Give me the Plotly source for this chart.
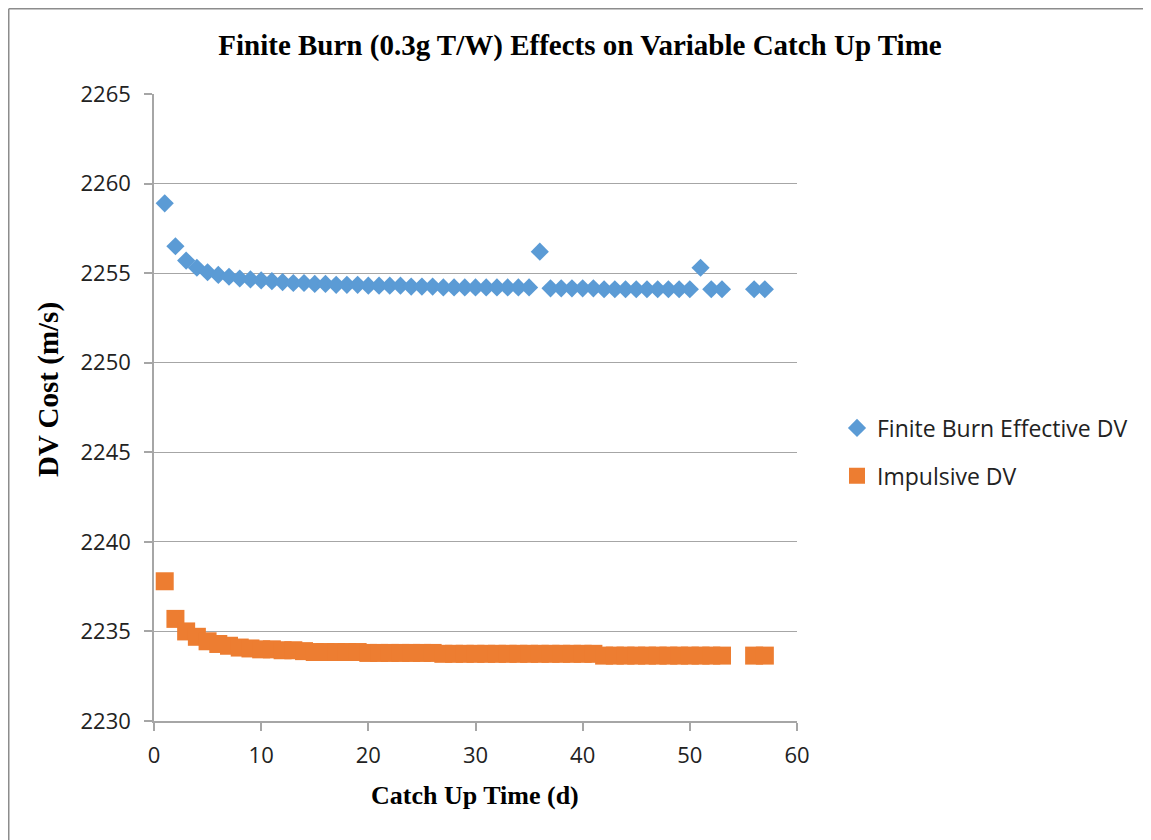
import plotly.graph_objects as go

# Finite burn effective DV (blue diamonds)
finite_x = list(range(1, 36)) + [36] + list(range(37, 51)) + [51, 52, 53, 56, 57]
finite_dv = [2258.9, 2256.5, 2255.7, 2255.3, 2255.05, 2254.9, 2254.8, 2254.7, 2254.65, 2254.6,
             2254.55, 2254.5, 2254.45, 2254.45, 2254.4, 2254.4, 2254.35, 2254.35, 2254.35, 2254.3,
             2254.3, 2254.3, 2254.3, 2254.25, 2254.25, 2254.25, 2254.2, 2254.2, 2254.2, 2254.2,
             2254.2, 2254.2, 2254.2, 2254.2, 2254.2,
             2256.2,
             2254.15, 2254.15, 2254.15, 2254.15, 2254.15, 2254.1, 2254.1, 2254.1, 2254.1, 2254.1,
             2254.1, 2254.1, 2254.1, 2254.1,
             2255.3, 2254.1, 2254.1, 2254.1, 2254.1]

# Impulsive DV (orange squares)
impulsive_x = list(range(1, 54)) + [56, 57]
impulsive_dv = [2237.8, 2235.7, 2235.0, 2234.7, 2234.45, 2234.3, 2234.2, 2234.1, 2234.05, 2234.0,
                2234.0, 2233.95, 2233.95, 2233.9, 2233.85, 2233.85, 2233.85, 2233.85, 2233.85, 2233.8,
                2233.8, 2233.8, 2233.8, 2233.8, 2233.8, 2233.8, 2233.75, 2233.75, 2233.75, 2233.75,
                2233.75, 2233.75, 2233.75, 2233.75, 2233.75, 2233.75, 2233.75, 2233.75, 2233.75, 2233.75,
                2233.75, 2233.65, 2233.65, 2233.65, 2233.65, 2233.65, 2233.65, 2233.65, 2233.65, 2233.65,
                2233.65, 2233.65, 2233.65,
                2233.65, 2233.65]

x_ticks = [0, 10, 20, 30, 40, 50, 60]
y_ticks = [2230, 2235, 2240, 2245, 2250, 2255, 2260, 2265]

fig = go.Figure()
fig.add_trace(go.Scatter(x=finite_x, y=finite_dv, mode="markers", name="Finite Burn Effective DV",
                         legendgroup="a",
                         marker=dict(symbol="diamond", size=14, color="#5B9BD5", line=dict(width=0))))
fig.add_trace(go.Scatter(x=impulsive_x, y=impulsive_dv, mode="markers", name="Impulsive DV",
                         legendgroup="b",
                         marker=dict(symbol="square", size=18, color="#ED7D31", line=dict(width=0))))

# page has an 8px body margin; work in figure coordinates (page - 8)
OFF = 8
W, H = 1151 - OFF, 840 - OFF
L, R, T, B = 154 - OFF, 797 - OFF, 94 - OFF, 721 - OFF
pw, ph = R - L, B - T


def px(xp):
    return (xp - OFF - L) / pw


def py(yp):
    return (B - (yp - OFF)) / ph


fig.update_layout(
    width=W, height=H,
    margin=dict(l=L, r=W - R, t=T, b=H - B, autoexpand=False),
    paper_bgcolor="white", plot_bgcolor="white",
    title=dict(text="<b>Finite Burn (0.3g T/W) Effects on Variable Catch Up Time</b>",
               x=(580 - OFF) / W, xref="container", xanchor="center",
               y=1 - (45 - OFF) / H, yanchor="middle",
               font=dict(family="Liberation Serif", size=29, color="black")),
    showlegend=True,
    legend=dict(x=px(837), xanchor="left", y=py(452), yanchor="middle",
                font=dict(family="Open Sans", size=23, color="#222"),
                tracegroupgap=15, bgcolor="rgba(0,0,0,0)"),
    xaxis=dict(range=[0, 60], tickvals=x_ticks, showgrid=False, zeroline=False,
               showline=True, linecolor="#a6a6a6", linewidth=1.5,
               ticks="outside", ticklen=8, tickcolor="#a6a6a6", tickwidth=1.5,
               ticklabelstandoff=6,
               tickfont=dict(family="Open Sans", size=22, color="#222")),
    yaxis=dict(range=[2230, 2265], tickvals=y_ticks, showgrid=True, gridcolor="#a6a6a6", gridwidth=1.2,
               zeroline=False, showline=True, linecolor="#a6a6a6", linewidth=1.5,
               ticks="outside", ticklen=8, tickcolor="#a6a6a6", tickwidth=1.5,
               ticklabelstandoff=9,
               tickfont=dict(family="Open Sans", size=22, color="#222")),
)

# axis titles
fig.add_annotation(text="<b>Catch Up Time (d)</b>", xref="paper", yref="paper",
                   x=px(475), y=py(795), xanchor="center", yanchor="middle", showarrow=False,
                   font=dict(family="Liberation Serif", size=26, color="black"))
fig.add_annotation(text="<b>DV Cost (m/s)</b>", xref="paper", yref="paper", textangle=-90,
                   x=px(48), y=py(390), xanchor="center", yanchor="middle", showarrow=False,
                   font=dict(family="Liberation Serif", size=29, color="black"))

# chart outer border (left and top edges visible)
fig.add_shape(type="line", xref="paper", yref="paper", x0=px(OFF + 0.75), x1=px(1160), y0=py(OFF + 0.75), y1=py(OFF + 0.75),
              line=dict(color="#8c8c8c", width=1.5))
fig.add_shape(type="line", xref="paper", yref="paper", x0=px(OFF + 0.75), x1=px(OFF + 0.75), y0=py(OFF + 0.75), y1=py(850),
              line=dict(color="#8c8c8c", width=1.5))

fig.write_html("out.html")
